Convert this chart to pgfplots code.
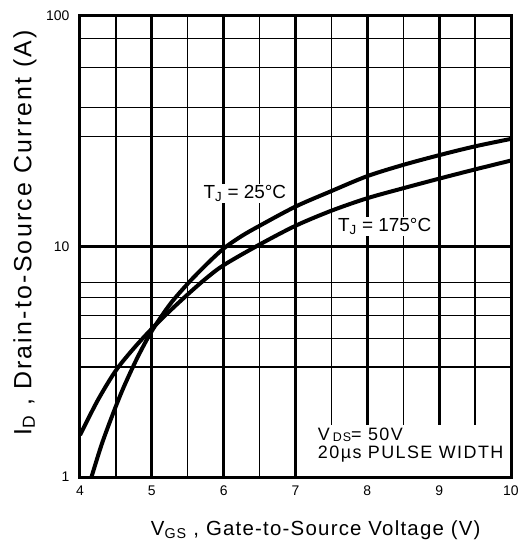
\documentclass[border=0pt]{standalone}
\usepackage{fontspec}
\setmainfont{Liberation Sans}
\newfontfamily\lblfont[LetterSpace=6]{Liberation Sans}
\newfontfamily\ylblfont[LetterSpace=9]{Liberation Sans}
\newfontfamily\annfont[LetterSpace=8]{Liberation Sans}
\usepackage{pgfplots}
\pgfplotsset{compat=1.18}

\begin{document}
\begin{tikzpicture}
\useasboundingbox (-80bp,-69bp) rectangle (443bp,477bp);
\begin{axis}[
  at={(0,0)}, anchor=south west,
  scale only axis, width=431bp, height=461bp,
  xmin=4, xmax=10, ymin=1, ymax=100, ymode=log, log basis y=10,
  xtick={4,5,6,7,8,9,10}, xticklabels={4,5,6,7,8,9,10},
  minor xtick={4.5,5.5,6.5,7.5,8.5,9.5},
  ytick={1,10,100}, yticklabels={1,10,100},
  minor ytick={3,4,5,6,7,30,40,60,80},
  major tick length=0pt, minor tick length=0pt,
  grid=both,
  major grid style={black, line width=2.7bp},
  minor grid style={black, line width=1.2bp},
  axis line style={black, line width=3bp},
  /pgf/number format/assume math mode=true,
  tick label style={font=\fontsize{14}{14}\selectfont},
  yticklabel style={xshift=-7bp},
  xticklabel style={yshift=-5bp},
  xlabel={\lblfont V\textsubscript{GS} , Gate-to-Source Voltage (V)},
  ylabel={\ylblfont I\textsubscript{D} , Drain-to-Source Current (A)},
  xlabel style={at={(axis description cs:0.547,-0.115)}, anchor=center, font=\fontsize{20.5}{20.5}\selectfont},
  ylabel style={at={(axis description cs:-0.128,0.53)}, anchor=center, rotate=0, font=\fontsize{25}{25}\selectfont},
]
\addplot[black, line width=4bp, smooth] coordinates {
(4.16,1.0) (4.3,1.38) (4.45,1.85) (4.6,2.42) (4.8,3.3) (5.0,4.3) (5.25,5.6) (5.5,6.9) (5.75,8.3) (6.0,9.8) (6.25,11.1) (6.5,12.3) (7.0,14.9) (7.5,17.4) (8.0,20.2) (8.5,22.6) (9.0,24.9) (9.5,27.2) (10,29.3)
};
\addplot[black, line width=4bp, smooth] coordinates {
(4.0,1.52) (4.25,2.16) (4.5,2.9) (4.75,3.62) (5.0,4.4) (5.25,5.25) (5.5,6.2) (5.75,7.25) (6.0,8.3) (6.5,10.2) (7.0,12.3) (7.5,14.3) (8.0,16.2) (8.5,17.9) (9.0,19.7) (9.5,21.6) (10,23.6)
};
\node[fill=white, inner sep=1bp, font=\fontsize{19}{19}\selectfont] at (axis cs:6.295,17.0) {T\textsubscript{J} = 25°C};
\node[fill=white, inner sep=1bp, font=\fontsize{19}{19}\selectfont] at (axis cs:8.242,12.19) {T\textsubscript{J} = 175°C};
\fill[white] (axis cs:7.04,1) rectangle (axis cs:10,1.68);
\node[anchor=base west, inner sep=0pt, font=\fontsize{18}{18}\selectfont] at (axis cs:7.31,1.447) {\annfont V\,\raisebox{-1.5bp}{\fontsize{12.5}{12.5}\selectfont DS}= 50V};
\node[anchor=base west, inner sep=0pt, font=\fontsize{18}{18}\selectfont] at (axis cs:7.31,1.209) {\annfont 20µs PULSE WIDTH};
\draw[black, line width=3bp] (rel axis cs:0,0) rectangle (rel axis cs:1,1);
\end{axis}
\end{tikzpicture}
\end{document}
